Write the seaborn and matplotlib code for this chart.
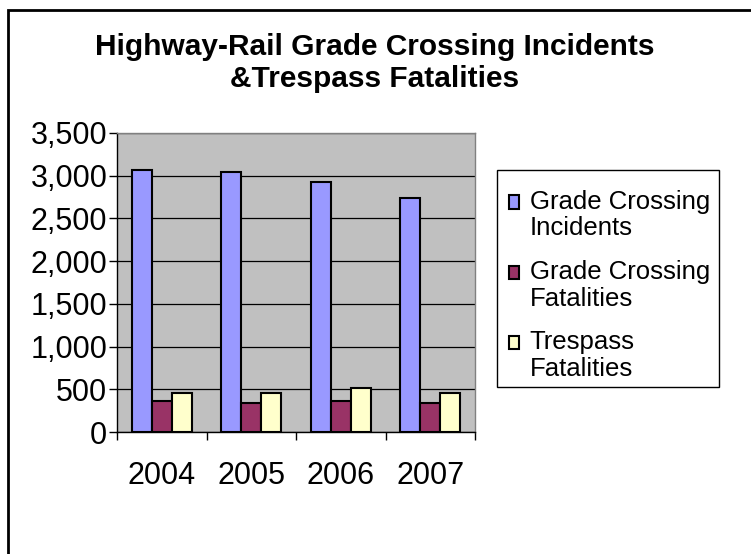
import matplotlib
matplotlib.use("Agg")
import matplotlib.pyplot as plt
import seaborn as sns
import pandas as pd
from matplotlib.patches import Rectangle
from matplotlib.legend_handler import HandlerPatch
from matplotlib.ticker import FixedLocator, FuncFormatter

years = ["2004", "2005", "2006", "2007"]
series = ["Grade Crossing Incidents", "Grade Crossing Fatalities", "Trespass Fatalities"]
legend_labels = ["Grade Crossing\nIncidents", "Grade Crossing\nFatalities", "Trespass\nFatalities"]
incidents = [3066, 3043, 2926, 2740]
gc_fatalities = [368, 345, 368, 345]
trespass_fatalities = [457, 457, 512, 457]
colors = ["#9999FF", "#993366", "#FFFFCC"]
yticks = [0, 500, 1000, 1500, 2000, 2500, 3000, 3500]

df = pd.DataFrame({
    "Year": years * 3,
    "Series": [series[0]] * 4 + [series[1]] * 4 + [series[2]] * 4,
    "Value": incidents + gc_fatalities + trespass_fatalities,
})

sns.set_style("white")
plt.rcParams["font.family"] = ["Liberation Sans", "DejaVu Sans"]
for k in ["text.color", "xtick.color", "ytick.color", "axes.labelcolor"]:
    plt.rcParams[k] = "black"

W, H = 751, 554
fig = plt.figure(figsize=(W / 100, H / 100), dpi=100)
ax = fig.add_axes([117 / W, 1 - 432 / H, (475 - 117) / W, (432 - 133) / H])

sns.barplot(data=df, x="Year", y="Value", hue="Series", hue_order=series,
            palette=colors, width=0.67, gap=0, saturation=1,
            edgecolor="black", linewidth=1.5, ax=ax, legend=True)

ax.set_facecolor("#C0C0C0")
ax.set_ylim(0, 3500)
ax.set_xlim(-0.5, 3.5)
ax.yaxis.set_major_locator(FixedLocator(yticks))
ax.yaxis.set_major_formatter(FuncFormatter(lambda v, p: f"{int(v):,}"))
ax.grid(axis="y", color="black", linewidth=0.9)
ax.set_axisbelow(True)
ax.set_xlabel("")
ax.set_ylabel("")

for s in ["top", "right"]:
    ax.spines[s].set_color("#808080")
    ax.spines[s].set_linewidth(1)
for s in ["left", "bottom"]:
    ax.spines[s].set_color("black")
    ax.spines[s].set_linewidth(1)

ax.tick_params(axis="y", direction="out", length=6, width=1, color="black",
               labelsize=22, pad=1, left=True, labelcolor="black")
ax.tick_params(axis="x", which="major", length=0, labelsize=22, pad=21,
               labelcolor="black")
ax.xaxis.set_minor_locator(FixedLocator([-0.5, 0.5, 1.5, 2.5, 3.5]))
ax.tick_params(axis="x", which="minor", direction="out", length=6, width=1,
               color="black", bottom=True)


def make_patch(legend, orig_handle, xdescent, ydescent, width, height, fontsize):
    return Rectangle((-xdescent, -ydescent + 9.5), width, height)


handles, _ = ax.get_legend_handles_labels()
hm = {h: HandlerPatch(patch_func=make_patch) for h in handles}
leg = ax.legend(handles, legend_labels, handler_map=hm,
                loc="upper left", bbox_to_anchor=(497 / W, 1 - 178 / H),
                bbox_transform=fig.transFigure,
                fontsize=18.5, frameon=False, borderpad=0.45, labelspacing=0.75,
                handlelength=0.42, handleheight=0.42, handletextpad=0.4,
                borderaxespad=0)
for t in leg.get_texts():
    t.set_linespacing(1.15)
    t.set_color("black")
for p in leg.get_patches():
    p.set_edgecolor("black")
    p.set_linewidth(1.5)

# legend frame
fig.patches.append(Rectangle((497 / W, 1 - 387 / H), (719 - 497) / W, (387 - 170) / H,
                             transform=fig.transFigure, fill=False,
                             edgecolor="black", linewidth=1))

fig.text(375 / W, 1 - 63 / H,
         "Highway-Rail Grade Crossing Incidents\n&Trespass Fatalities",
         ha="center", va="center", fontsize=21.5, fontweight="bold",
         linespacing=1.22, color="black")

fig.patches.append(Rectangle((8 / W, -0.1), 1.2, 1 - 10 / H + 0.1,
                             transform=fig.transFigure, fill=False,
                             edgecolor="black", linewidth=2))

fig.savefig("out.png", dpi=100)
